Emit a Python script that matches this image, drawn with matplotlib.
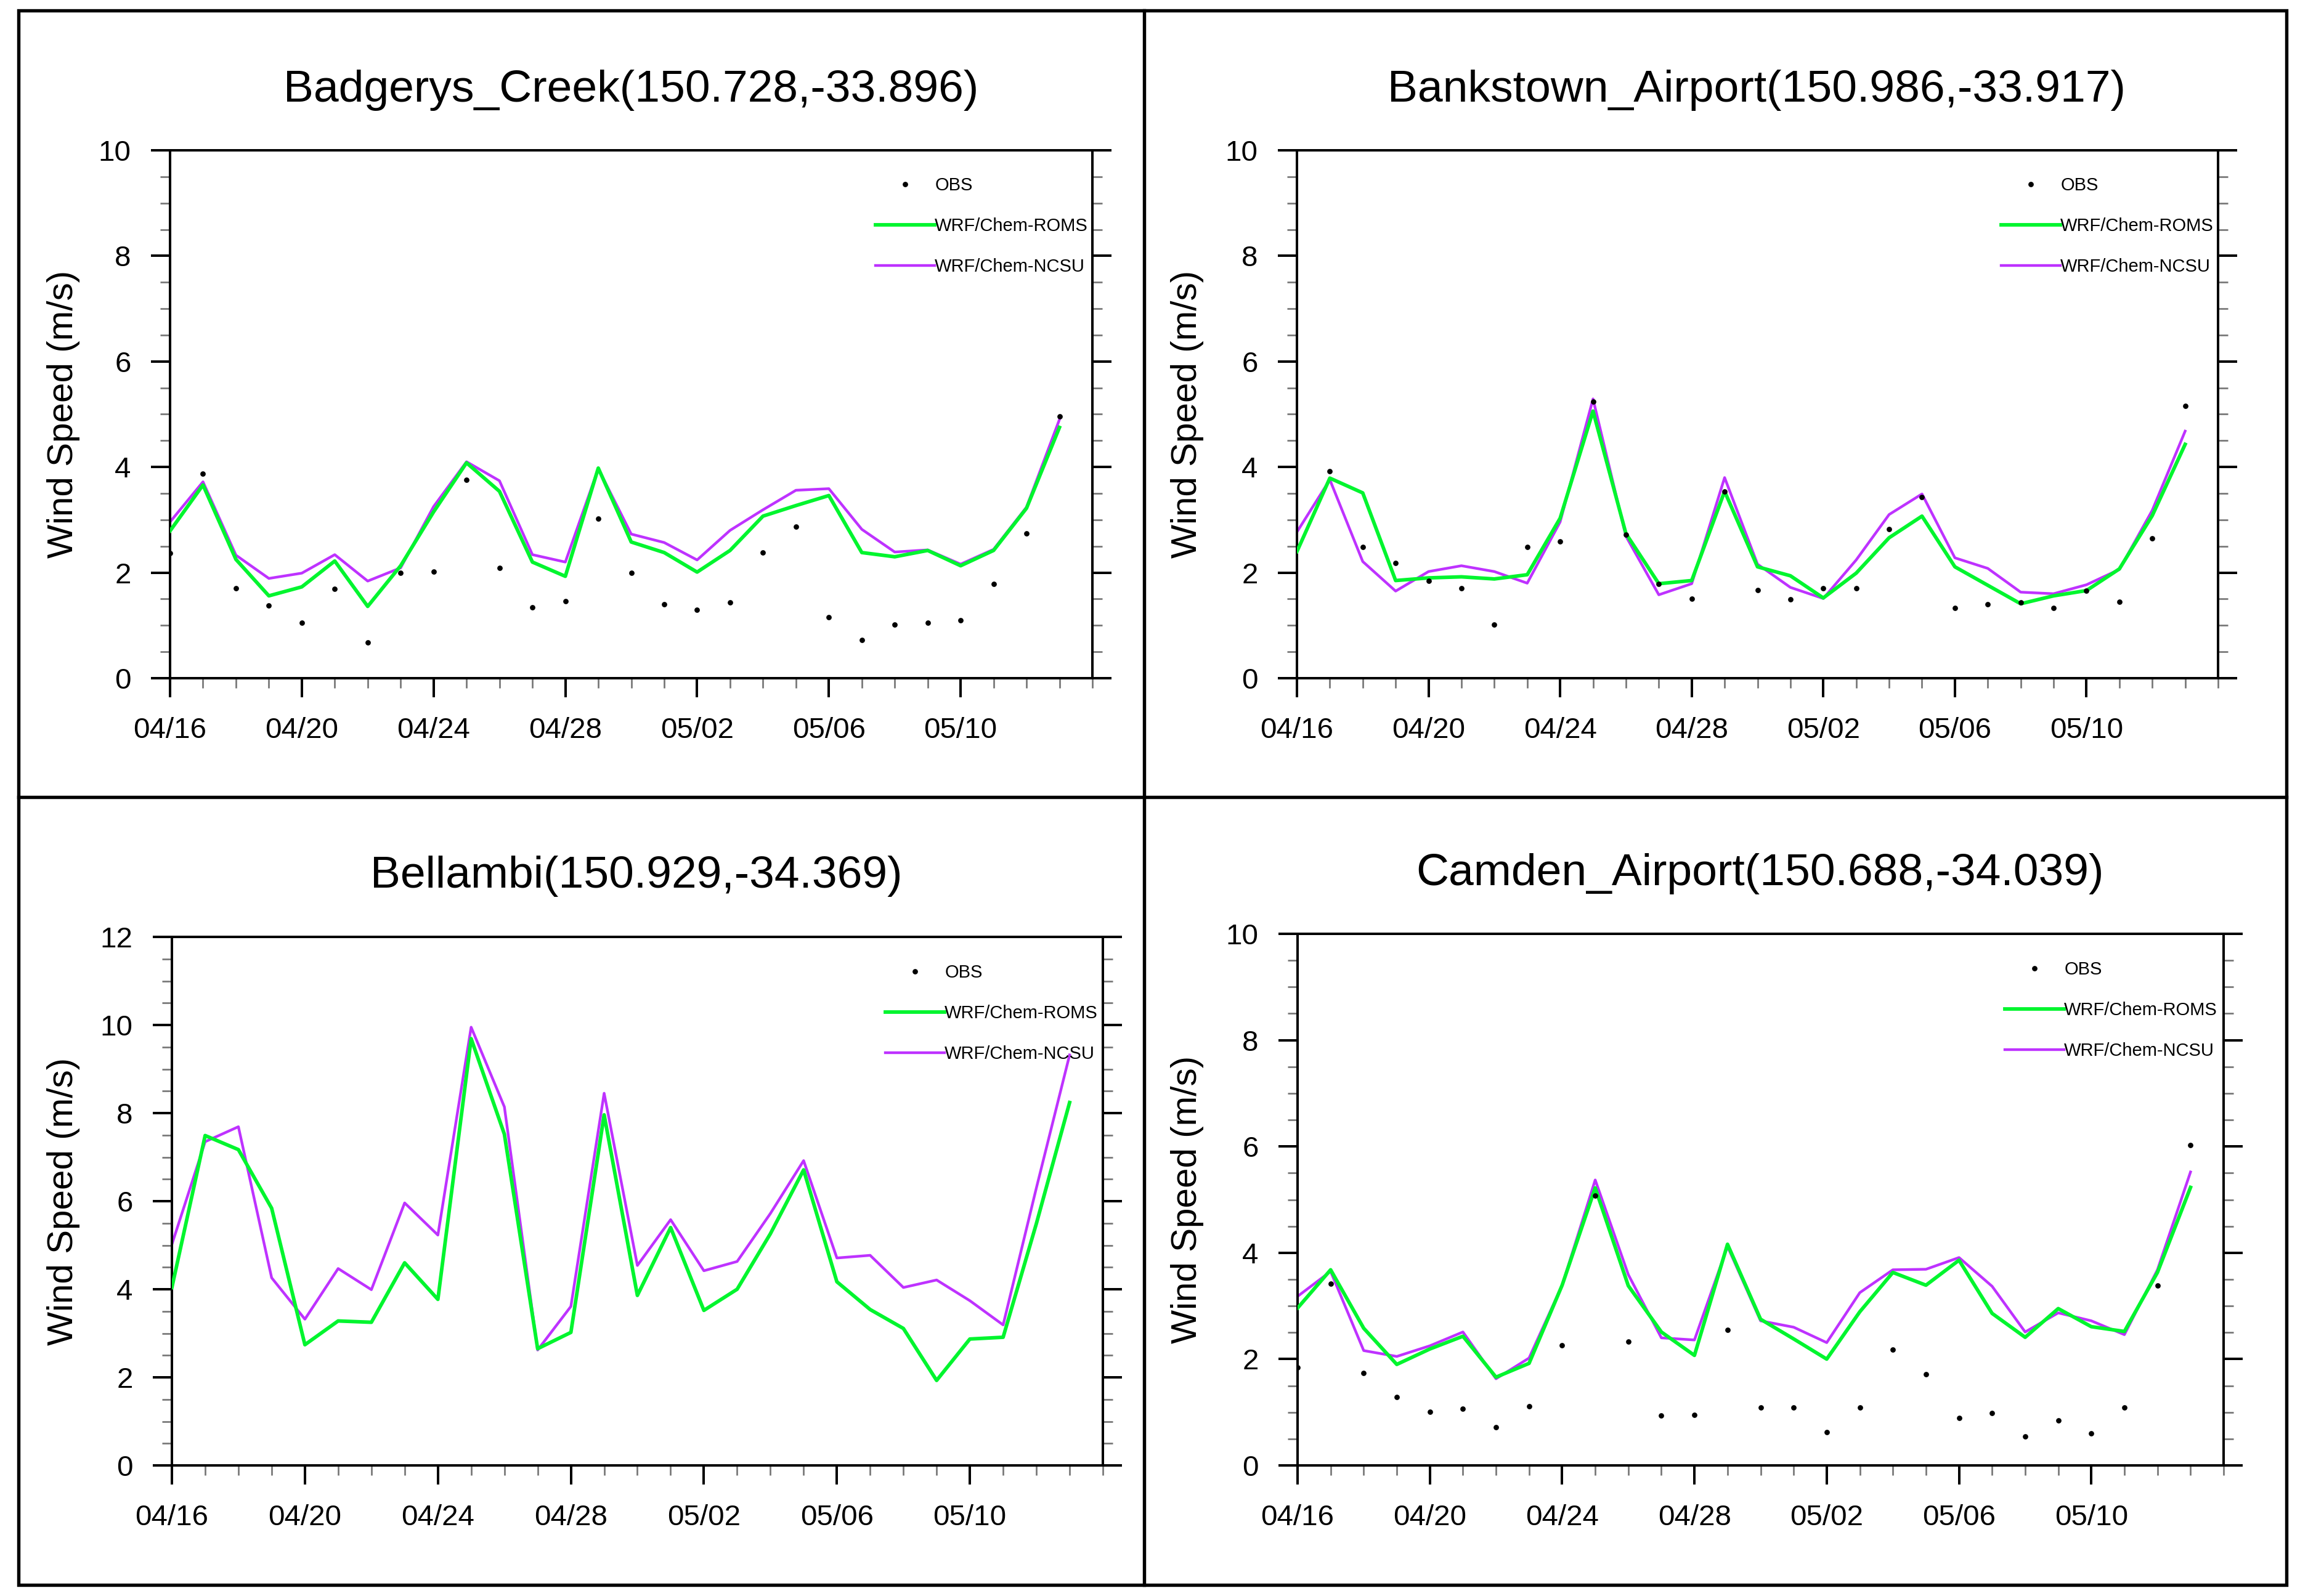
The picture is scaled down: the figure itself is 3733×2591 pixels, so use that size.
#!/usr/bin/env python3
import matplotlib

matplotlib.use("Agg")

import matplotlib.pyplot as plt
import numpy as np
from matplotlib.lines import Line2D
from matplotlib.patches import Rectangle
from matplotlib.ticker import MultipleLocator

WIDTH = 3733
HEIGHT = 2591

DAY_LABELS = ["04/16", "04/20", "04/24", "04/28", "05/02", "05/06", "05/10"]
DAYS = np.arange(28)

BADGERYS_OBS = [2.37, 3.87, 1.70, 1.38, 1.05, 1.69, 0.68, 2.00, 2.02, 3.76, 2.09, 1.34, 1.46, 3.02,
                1.99, 1.40, 1.29, 1.44, 2.38, 2.87, 1.15, 0.72, 1.01, 1.05, 1.10, 1.78, 2.74, 4.96]
BADGERYS_ROMS = [2.79, 3.66, 2.25, 1.56, 1.73, 2.22, 1.36, 2.13, 3.15, 4.08, 3.54, 2.20, 1.93, 3.98,
                 2.58, 2.38, 2.01, 2.42, 3.07, 3.27, 3.46, 2.38, 2.30, 2.42, 2.13, 2.42, 3.22, 4.75]
BADGERYS_NCSU = [2.96, 3.72, 2.33, 1.89, 1.99, 2.34, 1.84, 2.09, 3.25, 4.10, 3.74, 2.34, 2.20, 3.97,
                 2.73, 2.57, 2.24, 2.80, 3.19, 3.56, 3.59, 2.82, 2.39, 2.43, 2.16, 2.44, 3.24, 4.90]

BANKSTOWN_OBS = [np.nan, 3.92, 2.49, 2.18, 1.84, 1.70, 1.01, 2.48, 2.59, 5.24, 2.72, 1.78, 1.50, 3.54,
                 1.67, 1.49, 1.70, 1.70, 2.82, 3.43, 1.33, 1.40, 1.43, 1.33, 1.66, 1.45, 2.65, 5.16]
BANKSTOWN_ROMS = [2.40, 3.79, 3.51, 1.85, 1.90, 1.92, 1.88, 1.96, 3.03, 5.06, 2.74, 1.79, 1.85, 3.54,
                  2.11, 1.94, 1.52, 1.99, 2.66, 3.07, 2.11, 1.76, 1.41, 1.56, 1.66, 2.07, 3.08, 4.43]
BANKSTOWN_NCSU = [2.77, 3.76, 2.21, 1.65, 2.02, 2.13, 2.02, 1.80, 2.96, 5.29, 2.69, 1.58, 1.79, 3.80,
                  2.16, 1.72, 1.51, 2.24, 3.10, 3.49, 2.28, 2.08, 1.63, 1.60, 1.77, 2.06, 3.18, 4.68]

BELLAMBI_ROMS = [4.04, 7.49, 7.17, 5.84, 2.74, 3.28, 3.25, 4.60, 3.77, 9.69, 7.52, 2.65, 3.02, 7.96,
                 3.86, 5.40, 3.52, 4.00, 5.26, 6.71, 4.17, 3.54, 3.11, 1.93, 2.87, 2.91, 5.49, 8.24]
BELLAMBI_NCSU = [5.02, 7.35, 7.69, 4.26, 3.32, 4.47, 3.99, 5.96, 5.23, 9.95, 8.14, 2.62, 3.61, 8.45,
                 4.54, 5.58, 4.42, 4.63, 5.72, 6.92, 4.71, 4.77, 4.04, 4.21, 3.74, 3.19, 6.30, 9.32]

CAMDEN_OBS = [1.84, 3.42, 1.74, 1.29, 1.01, 1.07, 0.72, 1.11, 2.26, 5.08, 2.33, 0.94, 0.95, 2.55,
              1.09, 1.09, 0.63, 1.09, 2.18, 1.71, 0.89, 0.99, 0.55, 0.85, 0.60, 1.09, 3.38, 6.02]
CAMDEN_ROMS = [2.96, 3.68, 2.58, 1.90, 2.19, 2.43, 1.66, 1.92, 3.39, 5.22, 3.38, 2.51, 2.07, 4.16,
               2.75, 2.38, 2.00, 2.89, 3.63, 3.39, 3.86, 2.86, 2.41, 2.95, 2.61, 2.52, 3.63, 5.23]
CAMDEN_NCSU = [3.18, 3.65, 2.16, 2.05, 2.25, 2.51, 1.63, 2.02, 3.39, 5.37, 3.59, 2.40, 2.36, 4.12,
               2.72, 2.60, 2.31, 3.25, 3.68, 3.69, 3.91, 3.37, 2.51, 2.87, 2.72, 2.46, 3.68, 5.52]

GREEN = "#00F52E"
PURPLE = "#BE32FF"

plt.rcParams.update({"font.family": ["Liberation Sans", "DejaVu Sans"]})


def fx(px):
    return px / WIDTH


def fy(py):
    return 1 - py / HEIGHT


def draw_panel(fig, box, title, title_xy, ylabel_x, legend_xy, ymax, obs, roms, ncsu):
    left, top, right, bottom = box
    ax = fig.add_axes([fx(left), fy(bottom), fx(right - left), (bottom - top) / HEIGHT])

    ax.plot(DAYS, ncsu, color=PURPLE, linewidth=1.05, zorder=2)
    ax.plot(DAYS, roms, color=GREEN, linewidth=1.4, zorder=3)
    if obs is not None:
        ax.plot(DAYS, obs, linestyle="none", marker="o", markersize=2.1,
                markeredgewidth=0, color="black", zorder=4)

    ax.set_xlim(0, 28)
    ax.set_ylim(0, ymax)
    ax.set_xticks(DAYS[::4], DAY_LABELS)
    ax.xaxis.set_minor_locator(MultipleLocator(1))
    ax.yaxis.set_major_locator(MultipleLocator(2))
    ax.yaxis.set_minor_locator(MultipleLocator(0.5))

    ax.tick_params(axis="both", which="major", direction="out", length=7.4, width=0.96,
                   labelsize=11.4, pad=7.8, color="black")
    ax.tick_params(axis="both", which="minor", direction="out", length=3.9, width=0.65,
                   color="#777777")
    ax.tick_params(axis="y", which="both", left=True, right=True)
    ax.tick_params(axis="x", which="both", top=False)
    for spine in ax.spines.values():
        spine.set_linewidth(0.96)

    ax.set_ylabel("Wind Speed (m/s)", fontsize=14, va="center")
    ax.yaxis.set_label_coords((ylabel_x - left) / (right - left), 0.5)

    fig.text(fx(title_xy[0]), fy(title_xy[1]), title, fontsize=17.6, ha="center", va="center")

    handle_obs = Line2D([], [], linestyle="none", marker="o", markersize=2.1,
                        markeredgewidth=0, color="black")
    handle_roms = Line2D([], [], color=GREEN, linewidth=1.4)
    handle_ncsu = Line2D([], [], color=PURPLE, linewidth=1.05)
    ax.legend(
        [handle_obs, handle_roms, handle_ncsu],
        ["OBS", "WRF/Chem-ROMS", "WRF/Chem-NCSU"],
        loc="upper left",
        bbox_to_anchor=(fx(legend_xy[0]), fy(legend_xy[1])),
        bbox_transform=fig.transFigure,
        frameon=False,
        fontsize=7,
        borderpad=0,
        borderaxespad=0,
        handlelength=3.3,
        handletextpad=0,
        labelspacing=1.3,
        numpoints=1,
    )


def main():
    fig = plt.figure(figsize=(WIDTH / 300, HEIGHT / 300), dpi=300, facecolor="white")

    draw_panel(fig, (276, 244, 1773, 1101), "Badgerys_Creek(150.728,-33.896)",
               (1024, 146), 103, (1421, 287), 10,
               BADGERYS_OBS, BADGERYS_ROMS, BADGERYS_NCSU)
    draw_panel(fig, (2105, 244, 3600, 1101), "Bankstown_Airport(150.986,-33.917)",
               (2851, 146), 1927, (3248, 287), 10,
               BANKSTOWN_OBS, BANKSTOWN_ROMS, BANKSTOWN_NCSU)
    draw_panel(fig, (279, 1521, 1790, 2379), "Bellambi(150.929,-34.369)",
               (1033, 1423), 103, (1437, 1565), 12,
               None, BELLAMBI_ROMS, BELLAMBI_NCSU)
    draw_panel(fig, (2106, 1516, 3609, 2379), "Camden_Airport(150.688,-34.039)",
               (2856, 1419), 1927, (3254, 1560), 10,
               CAMDEN_OBS, CAMDEN_ROMS, CAMDEN_NCSU)

    fig.add_artist(Rectangle((fx(30), fy(2573)), fx(3711 - 30), (2573 - 17) / HEIGHT,
                             fill=False, edgecolor="black", linewidth=1.3))
    fig.add_artist(Line2D([fx(1857), fx(1857)], [fy(17), fy(2573)], color="black", linewidth=1.3))
    fig.add_artist(Line2D([fx(30), fx(3711)], [fy(1294), fy(1294)], color="black", linewidth=1.3))

    fig.savefig("out.png", dpi=300, facecolor="white")


if __name__ == "__main__":
    main()
